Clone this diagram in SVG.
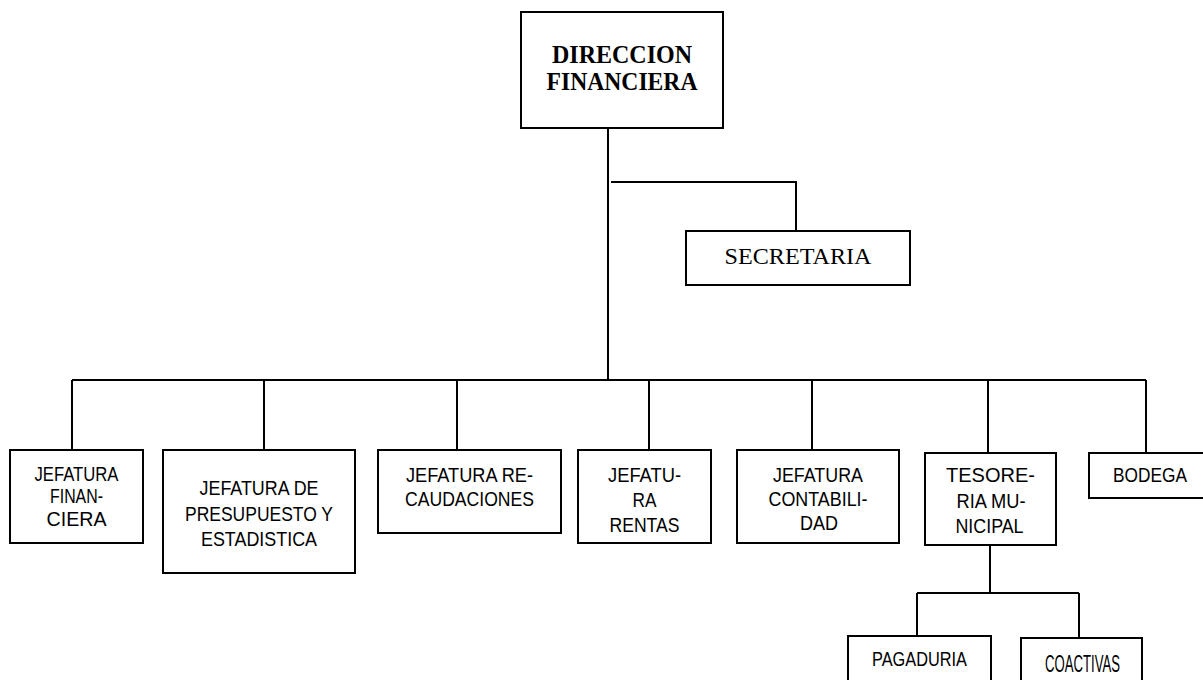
<svg xmlns="http://www.w3.org/2000/svg" width="1203" height="680" viewBox="0 0 1203 680">
<style>
.box{fill:#fff;stroke:#000;stroke-width:2}
.ln{fill:none;stroke:#000;stroke-width:2}
.t{font-family:"Liberation Sans Narrow","Liberation Sans",Arial,sans-serif;font-size:21px;fill:#000;text-anchor:middle}
.h{font-family:"Liberation Serif","Times New Roman",serif;font-size:26px;font-weight:bold;fill:#000;text-anchor:middle}
.s{font-family:"Liberation Serif","Times New Roman",serif;font-size:24px;fill:#000;text-anchor:middle}
</style>
<rect width="1203" height="680" fill="#fff"/>
<g id="connectors">
<path class="ln" d="M608 128V380"/>
<path class="ln" d="M611 182H796V231"/>
<path class="ln" d="M72 380H1146"/>
<path class="ln" d="M72 380V450M264 380V450M457 380V450M649 380V450M812 380V450M988 380V453M1146 380V453"/>
<path class="ln" d="M990 545V593M917 593H1079M917 593V636M1079 593V638"/>
</g>
<g id="direccion">
<rect class="box" x="521" y="12" width="202" height="116"/>
<text class="h" x="622" y="63" textLength="140" lengthAdjust="spacingAndGlyphs">DIRECCION</text>
<text class="h" x="622" y="90" textLength="151" lengthAdjust="spacingAndGlyphs">FINANCIERA</text>
</g>
<g id="secretaria">
<rect class="box" x="686" y="231" width="224" height="54"/>
<text class="s" x="798" y="264" textLength="147" lengthAdjust="spacingAndGlyphs">SECRETARIA</text>
</g>
<g id="jefatura-financiera">
<rect class="box" x="10" y="450" width="133" height="93"/>
<text class="t" x="76.5" y="481" textLength="84" lengthAdjust="spacingAndGlyphs">JEFATURA</text>
<text class="t" x="76.5" y="503" textLength="53" lengthAdjust="spacingAndGlyphs">FINAN-</text>
<text class="t" x="76.5" y="526" textLength="60" lengthAdjust="spacingAndGlyphs">CIERA</text>
</g>
<g id="jefatura-presupuesto">
<rect class="box" x="163" y="450" width="192" height="123"/>
<text class="t" x="259" y="495" textLength="119" lengthAdjust="spacingAndGlyphs">JEFATURA DE</text>
<text class="t" x="259" y="521" textLength="148" lengthAdjust="spacingAndGlyphs">PRESUPUESTO Y</text>
<text class="t" x="259" y="546" textLength="116" lengthAdjust="spacingAndGlyphs">ESTADISTICA</text>
</g>
<g id="jefatura-recaudaciones">
<rect class="box" x="378" y="450" width="183" height="83"/>
<text class="t" x="469.5" y="482" textLength="127" lengthAdjust="spacingAndGlyphs">JEFATURA RE-</text>
<text class="t" x="469.5" y="506" textLength="129" lengthAdjust="spacingAndGlyphs">CAUDACIONES</text>
</g>
<g id="jefatura-rentas">
<rect class="box" x="578" y="450" width="133" height="93"/>
<text class="t" x="644.5" y="482" textLength="73" lengthAdjust="spacingAndGlyphs">JEFATU-</text>
<text class="t" x="644.5" y="507" textLength="24" lengthAdjust="spacingAndGlyphs">RA</text>
<text class="t" x="644.5" y="532" textLength="70" lengthAdjust="spacingAndGlyphs">RENTAS</text>
</g>
<g id="jefatura-contabilidad">
<rect class="box" x="737" y="450" width="162" height="93"/>
<text class="t" x="818" y="482" textLength="90" lengthAdjust="spacingAndGlyphs">JEFATURA</text>
<text class="t" x="818" y="506" textLength="99" lengthAdjust="spacingAndGlyphs">CONTABILI-</text>
<text class="t" x="819" y="530" textLength="38" lengthAdjust="spacingAndGlyphs">DAD</text>
</g>
<g id="tesoreria">
<rect class="box" x="925" y="453" width="131" height="92"/>
<text class="t" x="990.5" y="482" textLength="89" lengthAdjust="spacingAndGlyphs">TESORE-</text>
<text class="t" x="991" y="508" textLength="69" lengthAdjust="spacingAndGlyphs">RIA  MU-</text>
<text class="t" x="989.5" y="533" textLength="68" lengthAdjust="spacingAndGlyphs">NICIPAL</text>
</g>
<g id="bodega">
<rect class="box" x="1089" y="453" width="115" height="45"/>
<text class="t" x="1150" y="482" textLength="74" lengthAdjust="spacingAndGlyphs">BODEGA</text>
</g>
<g id="pagaduria">
<rect class="box" x="848" y="636" width="143" height="60"/>
<text class="t" x="919.5" y="666" textLength="95" lengthAdjust="spacingAndGlyphs">PAGADURIA</text>
</g>
<g id="coactivas">
<rect class="box" x="1021" y="638" width="121" height="60"/>
<text class="t" x="1082.5" y="672" textLength="75" lengthAdjust="spacingAndGlyphs" style="font-size:24px">COACTIVAS</text>
</g>
</svg>
